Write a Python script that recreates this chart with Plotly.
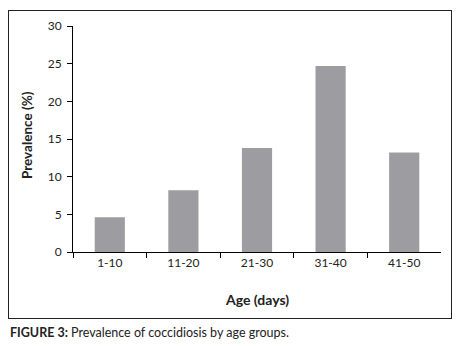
import plotly.graph_objects as go

categories = ["1-10", "11-20", "21-30", "31-40", "41-50"]
prevalence = [4.6, 8.2, 13.8, 24.7, 13.2]
y_ticks = [0, 5, 10, 15, 20, 25, 30]

FONT = "Lato, 'Open Sans', sans-serif"

fig = go.Figure()
# frame subplot (empty trace so the frame axes get drawn)
fig.add_trace(go.Scatter(x=[], y=[], xaxis="x2", yaxis="y2", hoverinfo="skip"))
fig.add_trace(go.Bar(x=categories, y=prevalence, marker_color="#9d9da1",
                     marker_line_width=0))

W, H = 463, 346
FL, FR, FT, FB = 9, 451, 11, 318
PL, PR, PT, PB = 73, 441, 26, 252
fw, fh = FR - FL, FB - FT

def px(x):
    return (x - FL) / fw

def py(y):
    return (FB - y) / fh

frame = dict(showline=True, mirror=True, linecolor="#222", linewidth=1.2,
             showticklabels=False, ticks="", showgrid=False, zeroline=False,
             fixedrange=True, range=[0, 1], automargin=False)

fig.update_layout(
    width=W, height=H,
    margin=dict(l=FL, r=W - FR, t=FT, b=H - FB, autoexpand=False),
    paper_bgcolor="white", plot_bgcolor="rgba(0,0,0,0)",
    bargap=0.59, showlegend=False,
    font=dict(family=FONT, size=12, color="#222"),
    xaxis=dict(type="category", tickson="boundaries", ticks="outside", ticklen=5,
               tickcolor="black", showline=True, linecolor="black", linewidth=1,
               showgrid=False, tickfont=dict(size=12), fixedrange=True,
               domain=[px(PL), px(PR)], anchor="y", automargin=False),
    yaxis=dict(range=[0, 30], tickvals=y_ticks, ticks="outside", ticklen=5,
               tickcolor="black", showline=True, linecolor="black", linewidth=1,
               showgrid=False, zeroline=False, tickfont=dict(size=12), ticklabelstandoff=3,
               fixedrange=True, domain=[py(PB), py(PT)], anchor="x", automargin=False),
    xaxis2=dict(frame, domain=[0, 1], anchor="y2"),
    yaxis2=dict(frame, domain=[0, 1], anchor="x2"),
    annotations=[
        dict(text="<b>Age (days)</b>", xref="paper", yref="paper",
             x=px((PL + PR) / 2), y=py(299),
             showarrow=False, font=dict(size=14), xanchor="center", yanchor="middle"),
        dict(text="<b>Prevalence (%)</b>", xref="paper", yref="paper", x=px(27),
             y=py(135), showarrow=False, font=dict(size=13.5), textangle=-90,
             xanchor="center", yanchor="middle"),
        dict(text="<b>FIGURE 3:</b> Prevalence of coccidiosis by age groups.",
             xref="paper", yref="paper", x=px(8), y=py(332), showarrow=False,
             font=dict(size=12.5), xanchor="left", yanchor="middle"),
    ],
)

fig.write_html("out.html", config={"displayModeBar": False},
               post_script="document.body.style.margin='0';document.body.style.padding='0';")
